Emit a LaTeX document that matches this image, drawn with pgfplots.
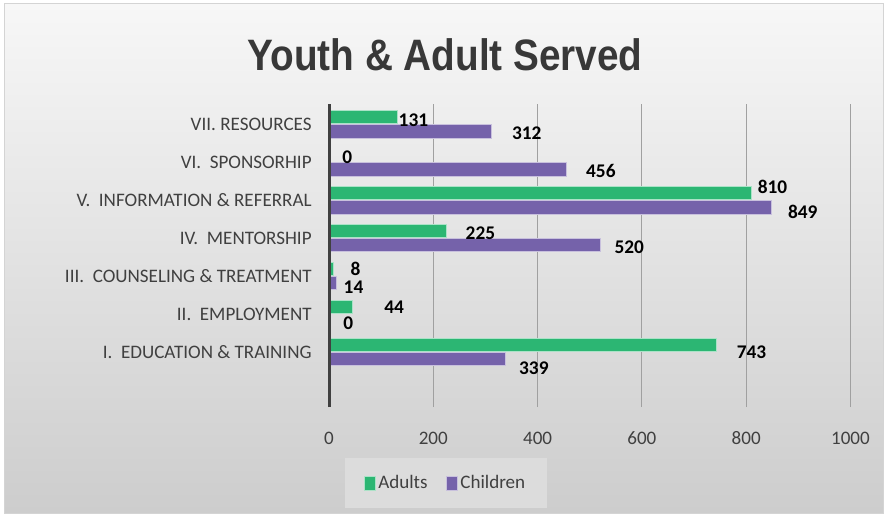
\documentclass[border=0pt]{standalone}
\usepackage{fontspec}
\setmainfont{Carlito}
\newfontfamily\titlefont{Liberation Sans}
\usepackage{pgfplots}
\usepackage{pgfplotstable}
\pgfplotsset{compat=1.18}

\definecolor{adultgreen}{HTML}{2CB673}
\definecolor{childpurple}{HTML}{7562AA}
\definecolor{labelgray}{HTML}{404040}
\definecolor{titlegray}{HTML}{383838}
\definecolor{gridgray}{HTML}{A0A0A0}
\definecolor{axisdark}{HTML}{404040}
\definecolor{bgtop}{HTML}{F7F7F7}
\definecolor{bgbottom}{HTML}{CDCDCD}
\definecolor{bordergray}{HTML}{D4D4D4}
\definecolor{legendfill}{HTML}{DCDCDC}

% y = category index (0 = I ... 6 = VII), x = value, dx/dy = label offset in px
\pgfplotstableread{
y x dx dy
0 743 20 7
1 44 32 0
2 8 17 0.5
3 225 19 2
4 810 6 -6
5 0 13 2
6 131 1 3
}\adults
\pgfplotstableread{
y x dx dy
0 339 13 9
1 0 14 2
2 14 7 4
3 520 14 2
4 849 16 5
5 456 19 2
6 312 20 2
}\children

\pgfplotsset{
  barlabels/.style={
    nodes near coords,
    nodes near coords style={font=\bfseries\fontsize{14.5}{17}\selectfont, text=black},
    visualization depends on={\thisrow{dx} \as \dx},
    visualization depends on={\thisrow{dy} \as \dy},
    every node near coord/.append style={anchor=west, inner sep=0pt,
      xshift={\dx*0.75pt}, yshift={-\dy*0.75pt}},
  },
}

\begin{document}
\begin{tikzpicture}[x=1pt,y=1pt]
\useasboundingbox (0,0) rectangle (665.25,387.75);
\fill[white] (0,0) rectangle (665.25,387.75);
\shade[top color=bgtop, bottom color=bgbottom] (3,3) rectangle (662.25,384.75);
\draw[bordergray, line width=0.75pt] (3,3) rectangle (662.25,384.75);
\node[anchor=base, inner sep=0pt, xscale=0.88, text=titlegray,
  font=\titlefont\bfseries\fontsize{33}{40}\selectfont] at (333.75,334.5) {Youth \& Adult Served};

\begin{axis}[
  at={(246.75pt,82.5pt)}, anchor=south west,
  scale only axis, width=391.1pt, height=227.25pt,
  clip=false,
  xbar, bar width=0.35,
  xmin=0, xmax=1000, ymin=-1.45, ymax=6.53,
  axis line style={draw=none},
  major tick length=0pt,
  xmajorgrids, grid style={gridgray, line width=0.75pt},
  xtick={200,400,600,800,1000},
  extra x ticks={0}, extra x tick style={grid=none},
  ytick={0,1,2,3,4,5,6},
  yticklabels={
    {I.\ \ EDUCATION \& TRAINING},
    {II.\ \ EMPLOYMENT\ },
    {III.\ \ COUNSELING \& TREATMENT},
    {IV.\ \ MENTORSHIP},
    {V.\ \ INFORMATION \& REFERRAL},
    {VI.\ \ SPONSORHIP\ },
    {VII. RESOURCES}},
  ticklabel style={font=\fontsize{14.3}{17}\selectfont, text=labelgray},
  xticklabel style={yshift=-15pt},
  yticklabel style={xshift=-9.5pt},
  /pgf/number format/assume math mode=true,
  /pgf/number format/1000 sep={},
  legend columns=2,
  area legend,
  legend image code/.code={\draw[#1] (0pt,-5.25pt) rectangle (8pt,5.25pt);},
  legend style={at={(0.2244,-0.2508)}, anchor=center,
    fill=legendfill, draw=none,
    font=\fontsize{14.3}{17}\selectfont, text=labelgray,
    inner xsep=14pt, inner ysep=11pt,
    /tikz/every even column/.append style={column sep=12pt}},
]
\addplot[fill=adultgreen, draw=white!60!adultgreen, line width=0.6pt, bar shift=0.19, barlabels]
  table[x=x, y=y] {\adults};
\addlegendentry{Adults}
\addplot[fill=childpurple, draw=white!60!childpurple, line width=0.6pt, bar shift=-0.19, barlabels]
  table[x=x, y=y] {\children};
\addlegendentry{Children}
\draw[axisdark, line width=2.25pt] (axis cs:0,-1.45) -- (axis cs:0,6.53);
\end{axis}
\end{tikzpicture}
\end{document}
